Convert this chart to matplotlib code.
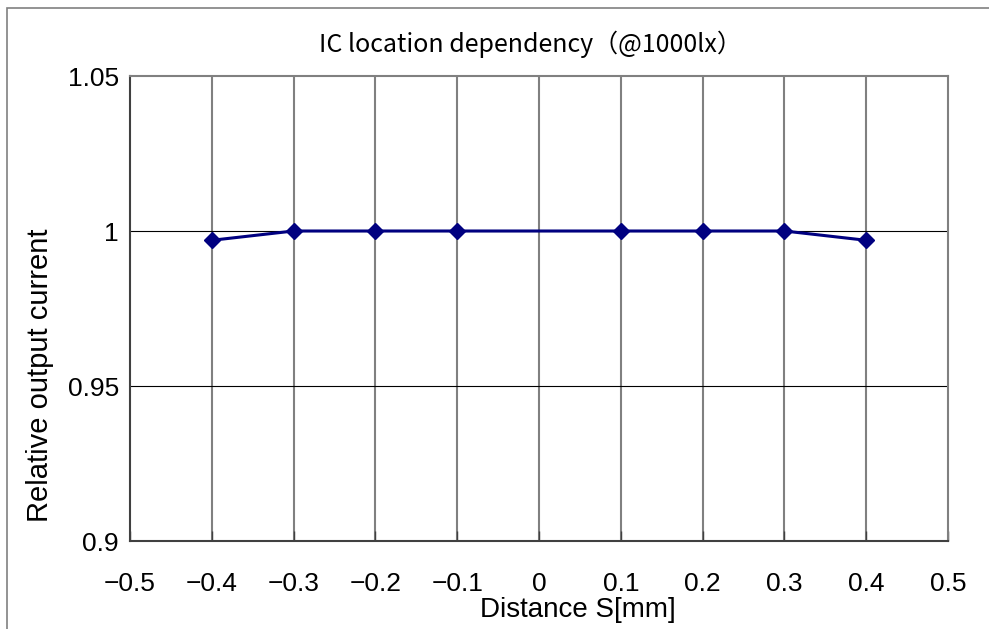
import matplotlib
matplotlib.use("Agg")
import matplotlib.pyplot as plt
from matplotlib.patches import Rectangle

# Relative output vs. IC offset
distance = [-0.4, -0.3, -0.2, -0.1, 0.1, 0.2, 0.3, 0.4]
rel_current = [0.997, 1.0, 1.0, 1.0, 1.0, 1.0, 1.0, 0.997]
x_ticks = [-0.5, -0.4, -0.3, -0.2, -0.1, 0, 0.1, 0.2, 0.3, 0.4, 0.5]
x_labels = ["−0.5", "−0.4", "−0.3", "−0.2", "−0.1", "0", "0.1", "0.2", "0.3", "0.4", "0.5"]
y_ticks = [0.9, 0.95, 1.0, 1.05]
y_labels = ["0.9", "0.95", "1", "1.05"]

plt.rcParams["font.family"] = ["Liberation Sans", "DejaVu Sans"]

fig = plt.figure(figsize=(9.89, 6.29), dpi=100)
fig.patches.append(Rectangle((7 / 989, -0.1), 1.2, 1 - 8 / 629 + 0.1,
                             transform=fig.transFigure, fill=False,
                             edgecolor="#808080", linewidth=1.2))

ax = fig.add_axes([130 / 989, 1 - 541 / 629, 818 / 989, 465 / 629])
ax.plot(distance, rel_current, color="#000080", linewidth=2.2,
        marker="D", markersize=8.5, markerfacecolor="#000080", zorder=3)

ax.set_xlim(-0.5, 0.5)
ax.set_ylim(0.9, 1.05)
ax.set_xticks(x_ticks)
ax.set_xticklabels(x_labels)
ax.set_yticks(y_ticks)
ax.set_yticklabels(y_labels)

# vertical grid gray, horizontal grid black
for xv in x_ticks[1:-1]:
    ax.axvline(xv, color="#808080", linewidth=1.5, zorder=1)
for yv in y_ticks[1:-1]:
    ax.axhline(yv, color="black", linewidth=0.8, zorder=1)

ax.spines["left"].set_color("#404040")
ax.spines["bottom"].set_color("#404040")
ax.spines["right"].set_color("#808080")
ax.spines["top"].set_color("#808080")
for s in ax.spines.values():
    s.set_linewidth(1.5)

ax.tick_params(axis="both", labelsize=19, direction="in", length=7,
               color="#404040", width=1)
ax.tick_params(axis="x", pad=22)
ax.tick_params(axis="y", pad=8, length=0)

fig.text(578 / 989, 1 - 610 / 629, "Distance S[mm]", fontsize=20,
         ha="center", va="center")
fig.text(40 / 989, 1 - 375 / 629, "Relative output current", fontsize=21,
         ha="center", va="center", rotation=90)
fig.text(530 / 989, 1 - 44 / 629, "IC location dependency（@1000lx）",
         ha="center", va="center", fontsize=18,
         family=["Noto Sans CJK JP", "DejaVu Sans"])

fig.savefig("out.png", dpi=100)
